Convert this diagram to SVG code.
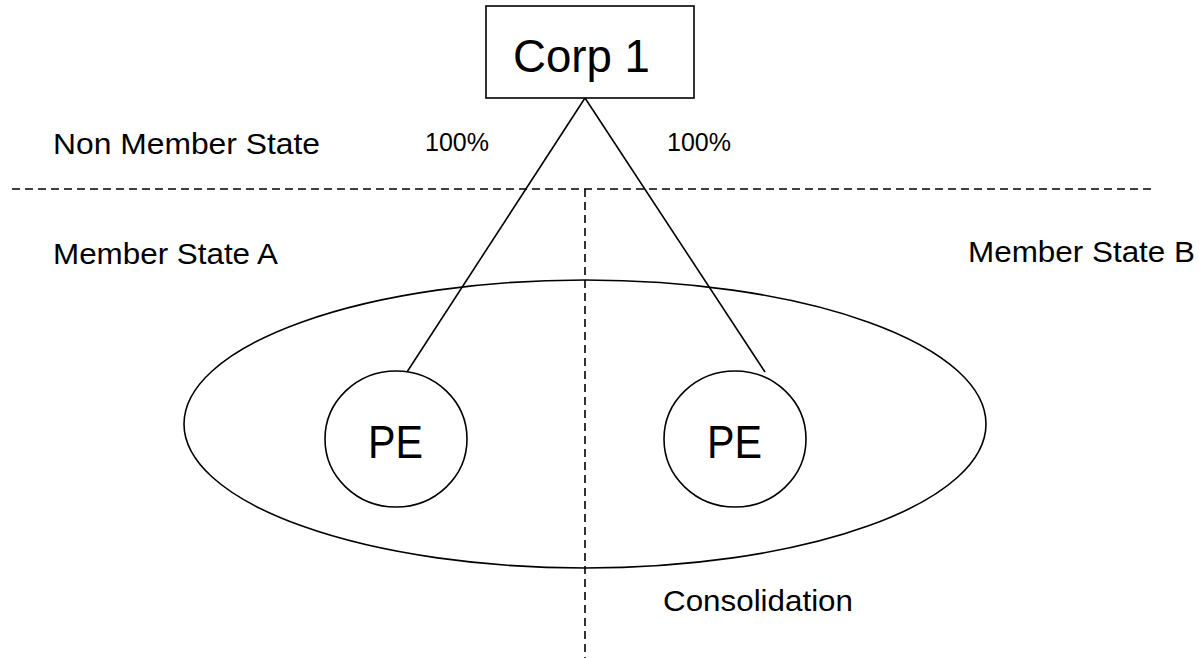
<svg xmlns="http://www.w3.org/2000/svg" width="1202" height="658" viewBox="0 0 1202 658">
<style>
text{font-family:"Liberation Sans",Arial,sans-serif;fill:#000}
.shape{fill:#fff;stroke:#000;stroke-width:1.6}
.dash{fill:none;stroke:#000;stroke-width:1.6;stroke-dasharray:8 5}
.link{fill:none;stroke:#000;stroke-width:1.6}
.lbl{font-size:30px}
</style>
<rect width="1202" height="658" fill="#fff"/>
<g id="group-ellipse"><ellipse class="shape" cx="585" cy="424" rx="401" ry="144"/></g>
<g id="dividers">
<line class="dash" x1="12" y1="189" x2="1153" y2="189"/>
<line class="dash" x1="585" y1="189" x2="585" y2="658"/>
</g>
<g id="corp1"><rect class="shape" x="486" y="6" width="208" height="92"/>
<text x="513" y="72" font-size="47" textLength="137" lengthAdjust="spacingAndGlyphs">Corp 1</text></g>
<g id="connectors">
<line class="link" x1="585" y1="98" x2="407" y2="372"/>
<line class="link" x1="585" y1="98" x2="765" y2="372"/>
</g>
<g id="pe-a"><ellipse class="shape" cx="396" cy="439" rx="71" ry="68"/>
<text x="368" y="458" font-size="46" textLength="55" lengthAdjust="spacingAndGlyphs">PE</text></g>
<g id="pe-b"><ellipse class="shape" cx="735" cy="439" rx="71" ry="68"/>
<text x="707" y="458" font-size="46" textLength="55" lengthAdjust="spacingAndGlyphs">PE</text></g>
<g id="labels">
<text class="lbl" x="53" y="154" textLength="267" lengthAdjust="spacingAndGlyphs">Non Member State</text>
<text x="425" y="151" font-size="25" textLength="64" lengthAdjust="spacingAndGlyphs">100%</text>
<text x="667" y="151" font-size="25" textLength="64" lengthAdjust="spacingAndGlyphs">100%</text>
<text class="lbl" x="53" y="264" textLength="225" lengthAdjust="spacingAndGlyphs">Member State A</text>
<text class="lbl" x="968" y="262" textLength="227" lengthAdjust="spacingAndGlyphs">Member State B</text>
<text class="lbl" x="663" y="611" textLength="190" lengthAdjust="spacingAndGlyphs">Consolidation</text>
</g>
</svg>
